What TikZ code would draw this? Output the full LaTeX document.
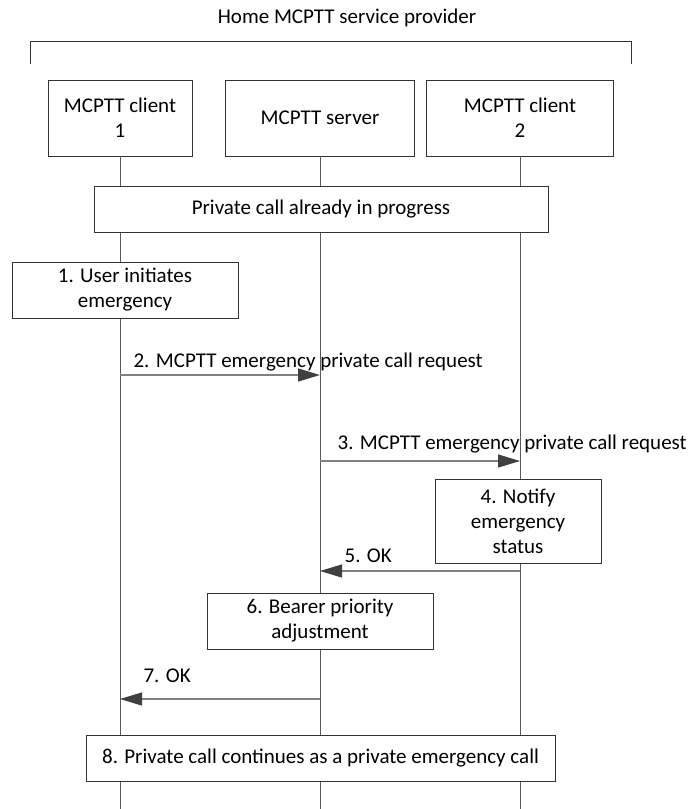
\documentclass[tikz,border=0pt]{standalone}
\usepackage{fontspec}
\setmainfont{Carlito}
\usetikzlibrary{arrows.meta}
\begin{document}
\begin{tikzpicture}[
    x=1pt, y=-1pt,
    box/.style={rectangle, draw=black!80, fill=white, line width=0.9pt, align=center, inner sep=0pt, font=\fontsize{21}{25}\selectfont},
    arrow/.style={-{Triangle[length=22pt, width=13pt, color=black!75]}, draw=black!50, line width=1.2pt},
    lbl/.style={font=\fontsize{21}{25}\selectfont, inner sep=0pt},
    life/.style={draw=black!65, line width=0.9pt},
]
\useasboundingbox (0,0) rectangle (690,809);

% Provider
\node[lbl] (home) at (347,18) {Home MCPTT service provider};
\draw[black!80, line width=0.9pt] (30,64) -- (30,41) -- (631,41) -- (631,64);

% Entities
\node[box, minimum width=144pt, minimum height=76pt] (cl1) at (120,118) {MCPTT client\\1};
\node[box, minimum width=189pt, minimum height=76pt] (srv) at (320,118) {MCPTT server};
\node[box, minimum width=187pt, minimum height=76pt] (cl2) at (520,118) {MCPTT client\\2};

% Lifelines
\coordinate (end) at (0,809);
\draw[life] (cl1.south) -- (cl1 |- end);
\draw[life] (srv.south) -- (srv |- end);
\draw[life] (cl2.south) -- (cl2 |- end);

% Call in progress
\node[box, minimum width=454pt, minimum height=46pt] (prog) at (321,209) {Private call already in progress};

% Step 1
\node[box, minimum width=226pt, minimum height=56pt] (s1) at (125,290) {1. User initiates\\emergency};

% Steps 2 and 3
\draw[arrow] (cl1 |- 0,375) -- (srv |- 0,375) node[lbl, pos=0, anchor=base west, xshift=13pt, yshift=8pt] {2. MCPTT emergency private call request};
\draw[arrow] (srv |- 0,461) -- (cl2 |- 0,461) node[lbl, pos=0, anchor=base west, xshift=17pt, yshift=12pt] {3. MCPTT emergency private call request};

% Step 4
\node[box, minimum width=166pt, minimum height=84pt] (s4) at (518,521) {4. Notify\\emergency\\status};

% Step 5
\draw[arrow] (cl2 |- 0,571) -- (srv |- 0,571) node[lbl, pos=1, anchor=base west, xshift=24pt, yshift=9pt] {5. OK};

% Step 6
\node[box, minimum width=226pt, minimum height=56pt] (s6) at (320,621) {6. Bearer priority\\adjustment};

% Step 7
\draw[arrow] (srv |- 0,699) -- (cl1 |- 0,699) node[lbl, pos=1, anchor=base west, xshift=23pt, yshift=17pt] {7. OK};

% Step 8
\node[box, minimum width=469pt, minimum height=46pt] (s8) at (320.5,758) {8. Private call continues as a private emergency call};

\end{tikzpicture}
\end{document}
